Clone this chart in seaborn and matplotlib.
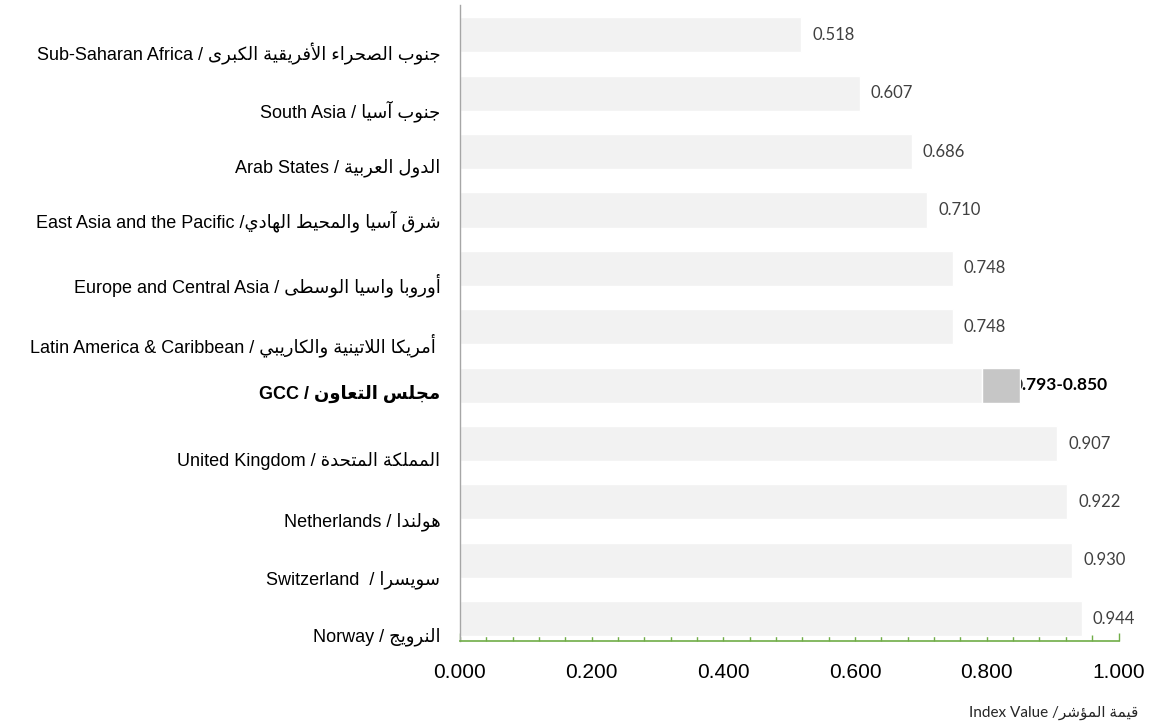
import seaborn as sns
import matplotlib.pyplot as plt
import matplotlib.transforms as mtransforms
from matplotlib.ticker import MultipleLocator, FormatStrFormatter
import pandas as pd

# Dados do gráfico (de cima para baixo)
regioes_en = ["Sub-Saharan Africa", "South Asia", "Arab States", "East Asia and the Pacific",
              "Europe and Central Asia", "Latin America & Caribbean", "GCC",
              "United Kingdom", "Netherlands", "Switzerland", "Norway"]
regioes_ar = ["جنوب الصحراء الأفريقية الكبرى", "جنوب آسيا", "الدول العربية", "شرق آسيا والمحيط الهادي",
              "أوروبا واسيا الوسطى", " أمريكا اللاتينية والكاريبي", "مجلس التعاون",
              "المملكة المتحدة", "هولندا", "سويسرا", "النرويج"]
separadores = [" / ", " / ", " / ", " /", " / ", " / ", " / ", " / ", " / ", "  / ", " / "]
valores = [0.518, 0.607, 0.686, 0.710, 0.748, 0.748, 0.793, 0.907, 0.922, 0.930, 0.944]
gcc_faixa = [0.793, 0.850]
rotulo_x_en = "Index Value"
rotulo_x_ar = "قيمة المؤشر"

# matplotlib não faz a junção das letras árabes: usar as formas de apresentação
contagem = "12222424244444222244444444" + "4444444224"
letras = [chr(c) for c in list(range(0x0621, 0x063B)) + list(range(0x0641, 0x064B))]
formas = {}
cod = 0xFE80
for letra, n in zip(letras, contagem):
    formas[letra] = [chr(cod + k) for k in range(int(n))]
    cod += int(n)
lam_alef = {'آ': ('\uFEF5', '\uFEF6'), 'أ': ('\uFEF7', '\uFEF8'),
            'إ': ('\uFEF9', '\uFEFA'), 'ا': ('\uFEFB', '\uFEFC')}


def liga_frente(c):
    return len(formas.get(c, [])) == 4


def liga_tras(c):
    return len(formas.get(c, [])) >= 2


def arabe_visual(texto):
    saida = []
    i = 0
    while i < len(texto):
        c = texto[i]
        ant = texto[i - 1] if i > 0 else ' '
        prox = texto[i + 1] if i + 1 < len(texto) else ' '
        liga_ant = liga_frente(ant) and liga_tras(c)
        if c == 'ل' and prox in lam_alef:
            saida.append(lam_alef[prox][1 if liga_ant else 0])
            i += 2
            continue
        if c not in formas:
            saida.append(c)
            i += 1
            continue
        f = formas[c]
        liga_prox = len(f) == 4 and liga_tras(prox)
        if liga_ant and liga_prox:
            saida.append(f[3])
        elif liga_ant:
            saida.append(f[1])
        elif liga_prox:
            saida.append(f[2])
        else:
            saida.append(f[0])
        i += 1
    return ''.join(reversed(saida))


rotulos = [en + sep + arabe_visual(ar) for en, sep, ar in zip(regioes_en, separadores, regioes_ar)]
df = pd.DataFrame({'regiao': rotulos, 'valor': valores})

sns.set_style("white")
plt.rcParams['font.family'] = ['Liberation Sans', 'DejaVu Sans']

fig = plt.figure(figsize=(11.7, 7.25), dpi=100)
ax = fig.add_axes([0.393, 0.116, 0.563, 0.877])

sns.barplot(data=df, y='regiao', x='valor', orient='h', color='#f2f2f2',
            saturation=1, width=0.6, ax=ax)
idx_gcc = regioes_en.index("GCC")
ax.barh(idx_gcc, gcc_faixa[1] - gcc_faixa[0], left=gcc_faixa[0], height=0.6,
        color='#c6c6c6', zorder=4)

for i, v in enumerate(valores):
    if i == idx_gcc:
        ax.annotate(f'{gcc_faixa[0]:.3f}-{gcc_faixa[1]:.3f}', xy=(gcc_faixa[1], i), xytext=(-5, 0),
                    textcoords='offset points', va='center', ha='left', fontsize=12.5,
                    fontweight='bold', color='black', family=['Lato', 'DejaVu Sans'], zorder=3)
    else:
        ax.annotate(f'{v:.3f}', xy=(v, i), xytext=(8, 0), textcoords='offset points',
                    va='center', ha='left', fontsize=12, color='#404040',
                    family=['Lato', 'DejaVu Sans'])

ax.set_xlim(0, 1.0)
ax.set_ylim(10.38, -0.51)
ax.xaxis.set_major_locator(MultipleLocator(0.2))
ax.xaxis.set_minor_locator(MultipleLocator(0.04))
ax.xaxis.set_major_formatter(FormatStrFormatter('%.3f'))
ax.set_xlabel('')
ax.set_ylabel('')

verde = '#70ad47'
for lado in ['top', 'right']:
    ax.spines[lado].set_visible(False)
ax.spines['bottom'].set_color(verde)
ax.spines['bottom'].set_linewidth(1.2)
ax.spines['left'].set_color('#a6a6a6')
ax.spines['left'].set_linewidth(1.0)

ax.tick_params(axis='x', which='major', bottom=True, direction='in', length=6, width=1,
               color=verde, labelsize=15, pad=16, labelcolor='black')
ax.tick_params(axis='x', which='minor', bottom=True, direction='in', length=4, width=1, color=verde)
ax.tick_params(axis='y', left=True, direction='in', length=4, width=1, color='#a6a6a6',
               labelsize=13, pad=14, labelcolor='black')

# rótulos das regiões ficam um pouco abaixo do centro das barras
desloc_rotulos = [0.17, 0.16, 0.14, 0.09, 0.15, 0.16, 0.07, 0.15, 0.17, 0.17, 0.16]
for i, lbl in enumerate(ax.get_yticklabels()):
    lbl.set_transform(lbl.get_transform()
                      + mtransforms.ScaledTranslation(0, -desloc_rotulos[i], fig.dpi_scale_trans))
    if i == idx_gcc:
        lbl.set_fontweight('bold')
        lbl.set_fontsize(13)

fig.text(0.973, 0.0166, rotulo_x_en + ' /' + arabe_visual(rotulo_x_ar), ha='right', va='center',
         fontsize=11, family=['Lato', 'DejaVu Sans'])

plt.savefig('out.png', dpi=100)
